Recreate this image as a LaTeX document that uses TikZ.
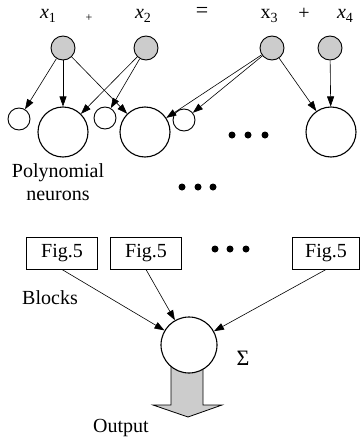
\documentclass[tikz,border=0pt]{standalone}
\usepackage{fontspec}
\setmainfont{Liberation Serif}
\usetikzlibrary{arrows.meta}
\tikzset{
  inp/.style={circle, draw, line width=0.9pt, fill=black!20, minimum size=24pt, inner sep=0pt},
  smallneuron/.style={circle, draw, line width=0.9pt, fill=white, minimum size=22pt, inner sep=0pt},
  bigneuron/.style={circle, draw, line width=1.1pt, fill=white, minimum size=50pt, inner sep=0pt},
  sumnode/.style={circle, draw, line width=1.1pt, fill=white, minimum size=56pt, inner sep=0pt},
  blockbox/.style={draw, line width=1pt, minimum width=71pt, minimum height=32pt, inner sep=0pt, font=\fontsize{20}{24}\selectfont},
  lbl/.style={inner sep=0pt, font=\fontsize{20}{24}\selectfont},
  conn/.style={line width=0.6pt, -{Triangle[length=10pt,width=7pt]}},
  dotmark/.style={circle, fill=black, minimum size=7pt, inner sep=0pt}
}
\newcommand{\sbs}[1]{\raisebox{-4pt}{\fontsize{14}{14}\selectfont #1}}
\begin{document}
\begin{tikzpicture}[x=1pt,y=-1pt]
\useasboundingbox (0,0) rectangle (361,439);

% input labels
\node[lbl] (l1) at (48,16) {\textit{x}\sbs{1}};
\node[lbl, font=\fontsize{12}{14}\selectfont] (p1) at (89,18) {+};
\node[lbl] (l2) at (143,16) {\textit{x}\sbs{2}};
\node[lbl, font=\fontsize{22}{26}\selectfont] (eq) at (202,12) {=};
\node[lbl] (l3) at (269,16) {x\sbs{3}};
\node[lbl] (p2) at (304,14) {+};
\node[lbl] (l4) at (345,16) {\textit{x}\sbs{4}};

% input nodes
\node[inp] (g1) at (63,48) {};
\node[inp] (g2) at (146,48) {};
\node[inp] (g3) at (272,48) {};
\node[inp] (g4) at (330,48) {};

% polynomial neurons
\node[smallneuron] (s1) at (19,119) {};
\node[bigneuron] (n1) at (63,132) {};
\node[smallneuron] (s2) at (105,118) {};
\node[bigneuron] (n2) at (145,132) {};
\node[smallneuron] (s3) at (184,120) {};
\node[bigneuron] (n3) at (331,132) {};

\node[dotmark] (d1) at (232,135) {};
\node[dotmark] (d2) at (248,135) {};
\node[dotmark] (d3) at (265,135) {};

% connections from the inputs
\draw[conn] (g1) -- (s1);
\draw[conn] (g1) -- (n1);
\draw[conn] (g1) -- (n2);
\draw[conn] (g2) -- (n1);
\draw[conn] (g2) -- (s2);
\draw[conn] (g3) -- (n2);
\draw[conn] (g3) -- (s3);
\draw[conn] (g3) -- (n3);
\draw[conn] (g4) -- (n3);

\node[lbl] (pn1) at (58,173) {Polynomial};
\node[lbl] (pn2) at (58,196) {neurons};

\node[dotmark] (e1) at (182,187) {};
\node[dotmark] (e2) at (198,187) {};
\node[dotmark] (e3) at (213,187) {};

% blocks
\node[blockbox] (b1) at (62,253) {Fig.5};
\node[blockbox] (b2) at (146,253) {Fig.5};
\node[blockbox, minimum width=67pt] (b3) at (326,253) {Fig.5};

\node[dotmark] (f1) at (215,249) {};
\node[dotmark] (f2) at (230,249) {};
\node[dotmark] (f3) at (246,249) {};

\node[lbl] (bl) at (50,298) {Blocks};

% output arrow behind the summing node
\draw[line width=0.8pt, fill=black!20]
  (171,360) -- (171,405) -- (153,405) -- (188,417) -- (222,405) -- (203,405) -- (203,360) -- cycle;

\node[sumnode] (sum) at (189,345) {};
\node[lbl, font=\fontsize{22}{26}\selectfont] (sg) at (243,358) {Σ};

\draw[conn] (b1.south) -- (sum);
\draw[conn] (b2.south) -- (sum);
\draw[conn] (b3.south) -- (sum);

\node[lbl] (out) at (121,428) {Output};
\end{tikzpicture}
\end{document}
